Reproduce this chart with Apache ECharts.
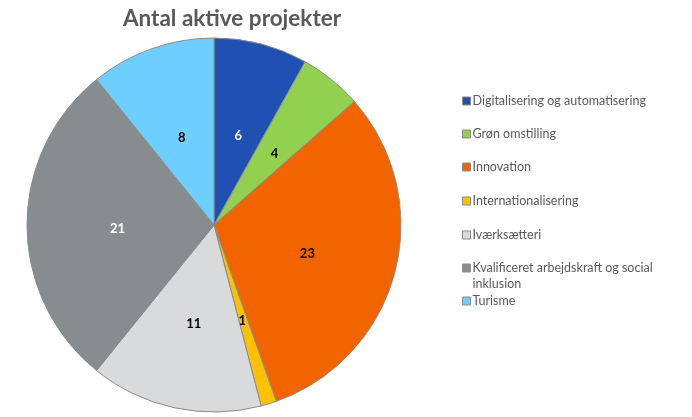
<!DOCTYPE html>
<html>
<head>
<meta charset="utf-8">
<script src="https://cdn.jsdelivr.net/npm/echarts@6/dist/echarts.min.js"></script>
<style>
  html, body { margin: 0; padding: 0; background: #fff; }
  #chart { width: 692px; height: 417px; }
</style>
</head>
<body>
<div id="chart"></div>
<script>
// data
var categories = ['Digitalisering og automatisering', 'Grøn omstilling', 'Innovation',
  'Internationalisering', 'Iværksætteri', 'Kvalificeret arbejdskraft og social inklusion', 'Turisme'];
var values = [6, 4, 23, 1, 11, 21, 8];
var colors = ['#1f50b2', '#92d050', '#f26400', '#ffc000', '#d9dadc', '#878c8f', '#6dcfff'];
var labelColors = ['#fff', '#000', '#000', '#000', '#000', '#fff', '#000'];

// legend rows (y of each item top)
var legendTops = [88, 121, 154, 188, 222, 239, 288];

var myChart = echarts.init(document.getElementById('chart'));

var legends = categories.map(function (name, i) {
  return {
    data: [name],
    left: 457,
    top: legendTops[i],
    orient: 'vertical',
    icon: 'rect',
    itemWidth: 8,
    itemHeight: 8,
    itemGap: 0,
    itemStyle: { borderColor: '#8c8c8c', borderWidth: 1 },
    selectedMode: false,
    formatter: function (n) {
      // wrap the long one like Excel does, keeping the marker on the first line
      if (n.indexOf(' social ') > 0) return '\n' + n.replace(' social ', ' social\n');
      return n;
    },
    textStyle: {
      fontFamily: 'Lato',
      fontSize: 12.5,
      color: '#595959',
      lineHeight: 16,
      padding: [0, 0, 0, -3]
    }
  };
});

myChart.setOption({
  title: {
    text: 'Antal aktive projekter',
    left: 227,
    textAlign: 'center',
    top: 2,
    textStyle: { fontFamily: 'Lato', fontSize: 22.5, fontWeight: 'bold', color: '#595959' }
  },
  legend: legends,
  series: [{
    type: 'pie',
    center: [214, 225],
    radius: 187,
    startAngle: 90,
    clockwise: true,
    animation: false,
    silent: true,
    itemStyle: { borderColor: '#8a8a8a', borderWidth: 1 },
    label: {
      show: true,
      position: 'inside',
      formatter: '{c}',
      fontFamily: 'Lato',
      fontSize: 13,
      fontWeight: 'bold',
      offset: [0, 4]
    },
    labelLine: { show: false },
    data: categories.map(function (name, i) {
      return {
        name: name,
        value: values[i],
        itemStyle: { color: colors[i] },
        label: { color: labelColors[i] }
      };
    })
  }]
});
</script>
</body>
</html>
